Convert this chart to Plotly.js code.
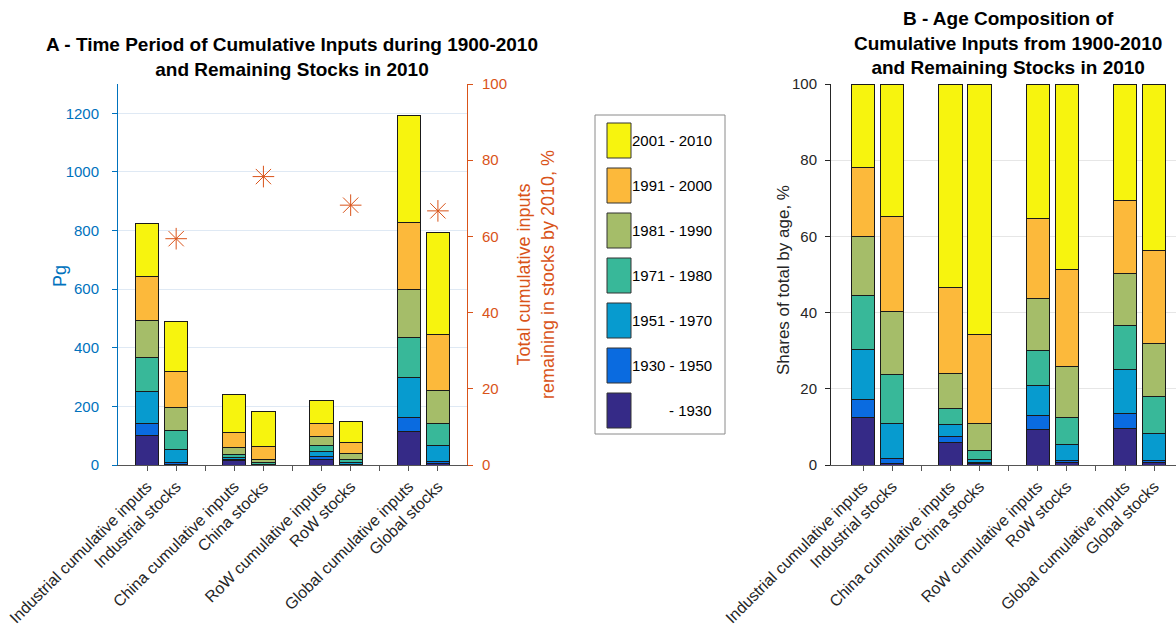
<!DOCTYPE html>
<html>
<head>
<meta charset="utf-8">
<script src="https://cdn.plot.ly/plotly-3.0.1.min.js"></script>
<style>html,body{margin:0;padding:0;background:#fff;}#chart{width:1176px;height:627px;}</style>
</head>
<body>
<div id="chart"></div>
<script>
// ---- DATA ----
const categories = ['Industrial cumulative inputs','Industrial stocks','China cumulative inputs','China stocks',
                    'RoW cumulative inputs','RoW stocks','Global cumulative inputs','Global stocks'];
const periods = ['- 1930','1930 - 1950','1951 - 1970','1971 - 1980','1981 - 1990','1991 - 2000','2001 - 2010'];
// total height of each bar in panel A, Pg
const totalsPg = [825, 490, 242, 181, 220, 150, 1192, 792];
// shares of each period in each bar, % (panel B)
const sharePre1930 = [12.4, 0.5, 5.8, 0.4, 9.2, 0.7, 9.5, 0.6];
const share1930_1950 = [4.7, 1.3, 1.6, 0.3, 3.8, 0.4, 4.1, 0.7];
const share1951_1970 = [13.1, 9.2, 3.1, 0.7, 7.9, 4.2, 11.5, 6.9];
const share1971_1980 = [14.2, 12.8, 4.3, 2.5, 9.2, 7.2, 11.4, 9.7];
const share1981_1990 = [15.5, 16.4, 9.3, 7.1, 13.5, 13.4, 13.7, 14.0];
const share1991_2000 = [18.1, 25.0, 22.4, 23.3, 21.1, 25.4, 19.3, 24.5];
const share2001_2010 = [22.0, 34.8, 53.5, 65.7, 35.3, 48.7, 30.5, 43.6];
// % of cumulative inputs remaining in stocks by 2010 (stars), for the stocks bars
const remainingPct = [59.4, 75.7, 68.2, 66.7];

// ---- STYLE ----
const colors = ['#352A87','#0A6BE0','#079BCF','#38B899','#A5BD69','#FCB93B','#F7F40E'];
const FONT = 'Arial, "Liberation Sans", Helvetica, sans-serif';
const BLUE = '#0072BD', ORANGE = '#D95319', DARK = '#262626';
const W = 1176, H = 627;
const px = v => v / W, py = v => 1 - v / H;

const shares = [sharePre1930, share1930_1950, share1951_1970, share1971_1980, share1981_1990, share1991_2000, share2001_2010];

// positions: pairs of bars with an empty slot between groups
const pos = categories.map((c, i) => Math.floor(i / 2) * 3 + (i % 2) + 1);
const tickvals = [], ticktext = [];
for (let t = 1; t <= 11; t++) {
  tickvals.push(t);
  const k = pos.indexOf(t);
  ticktext.push(k >= 0 ? categories[k] : '');
}

const traces = [];
shares.forEach((s, p) => {
  traces.push({
    type: 'bar', x: pos, y: s.map((v, i) => totalsPg[i] * v / 100),
    xaxis: 'x', yaxis: 'y', width: 0.8, name: periods[p],
    marker: {color: colors[p], line: {color: '#1a1a1a', width: 1}},
    showlegend: false, hoverinfo: 'skip'
  });
});
shares.forEach((s, p) => {
  traces.push({
    type: 'bar', x: pos, y: s,
    xaxis: 'x2', yaxis: 'y3', width: 0.8, name: periods[p],
    marker: {color: colors[p], line: {color: '#1a1a1a', width: 1}},
    showlegend: false, hoverinfo: 'skip'
  });
});
const stockPos = pos.filter((v, i) => i % 2 === 1);
traces.push({
  type: 'scatter', mode: 'markers', x: stockPos, y: remainingPct,
  xaxis: 'x', yaxis: 'y2', showlegend: false,
  marker: {symbol: 'asterisk-open', size: 18, color: ORANGE, line: {color: ORANGE, width: 1}}
});

// custom legend (large swatches, as in the reference)
const shapes = [{type: 'rect', xref: 'paper', yref: 'paper', x0: px(595), x1: px(725), y0: py(434), y1: py(115),
                 line: {color: '#8a8a8a', width: 1}, fillcolor: 'rgba(0,0,0,0)'}];
const annotations = [];
const order = periods.map((p, i) => i).reverse();
order.forEach((p, k) => {
  const top = 123 + k * 45;
  shapes.push({type: 'rect', xref: 'paper', yref: 'paper', x0: px(607), x1: px(631), y0: py(top + 35), y1: py(top),
               line: {color: '#333', width: 1}, fillcolor: colors[p]});
  annotations.push({xref: 'paper', yref: 'paper', x: px(714), y: py(top + 17.5), xanchor: 'right', yanchor: 'middle',
                    text: periods[p], showarrow: false, font: {family: FONT, size: 15, color: '#000'}});
});
annotations.push({xref: 'paper', yref: 'paper', x: px(292), y: py(57), xanchor: 'center', yanchor: 'middle',
  text: '<b>A - Time Period of Cumulative Inputs during 1900-2010<br>and Remaining Stocks in 2010</b>',
  showarrow: false, font: {family: FONT, size: 19, color: '#000'}});
annotations.push({xref: 'paper', yref: 'paper', x: px(1008), y: py(43), xanchor: 'center', yanchor: 'middle',
  text: '<b>B - Age Composition of<br>Cumulative Inputs from 1900-2010<br>and Remaining Stocks in 2010</b>',
  showarrow: false, font: {family: FONT, size: 19, color: '#000'}});
// left axis titles
annotations.push({xref: 'paper', yref: 'paper', x: px(60), y: py(276), xanchor: 'center', yanchor: 'middle',
  text: 'Pg', textangle: -90, showarrow: false, font: {family: FONT, size: 18, color: BLUE}});
annotations.push({xref: 'paper', yref: 'paper', x: px(783), y: py(280), xanchor: 'center', yanchor: 'middle',
  text: 'Shares of total by age, %', textangle: -90, showarrow: false, font: {family: FONT, size: 17, color: DARK}});

const xCommon = {
  tickvals: tickvals, ticktext: ticktext, tickangle: -45, ticks: 'outside', ticklen: 5,
  tickcolor: '#555', showline: true, linecolor: '#555', linewidth: 1, showgrid: false, zeroline: false,
  tickfont: {family: FONT, size: 16, color: DARK}
};

const layout = {
  width: W, height: H, margin: {l: 0, r: 0, t: 0, b: 0}, autosize: false,
  paper_bgcolor: '#fff', plot_bgcolor: 'rgba(0,0,0,0)', barmode: 'stack', bargap: 0,
  showlegend: false, font: {family: FONT},
  xaxis: Object.assign({domain: [px(118), px(467)], range: [0, 12], anchor: 'y'}, xCommon),
  yaxis: {domain: [py(465), py(84)], range: [0, 1300], tickvals: [0,200,400,600,800,1000,1200],
          anchor: 'x', showline: true, linecolor: BLUE, ticks: 'outside', ticklen: 5, tickcolor: BLUE,
          showgrid: true, gridcolor: '#dfe9f4', zeroline: false, ticklabelstandoff: 10,
          tickfont: {family: FONT, size: 15, color: BLUE}},
  yaxis2: {overlaying: 'y', side: 'right', anchor: 'x', range: [0, 100], dtick: 20,
           showline: true, linecolor: ORANGE, ticks: 'outside', ticklen: 5, tickcolor: ORANGE,
           showgrid: false, zeroline: false, ticklabelstandoff: 6,
           tickfont: {family: FONT, size: 15, color: ORANGE},
           title: {text: 'Total cumulative inputs<br>remaining in stocks by 2010, %',
                   font: {family: FONT, size: 18, color: ORANGE}, standoff: 11}},
  xaxis2: Object.assign({domain: [px(831), 1], range: [-0.1, 11.75], anchor: 'y3'}, xCommon),
  yaxis3: {domain: [py(465), py(84)], range: [0, 100], dtick: 20, anchor: 'x2',
           showline: true, linecolor: DARK, ticks: 'outside', ticklen: 5, tickcolor: DARK,
           showgrid: true, gridcolor: '#e6e6e6', zeroline: false, ticklabelstandoff: 5,
           tickfont: {family: FONT, size: 15, color: DARK}},
  shapes: shapes, annotations: annotations
};

Plotly.newPlot('chart', traces, layout, {staticPlot: true, displayModeBar: false});
</script>
</body>
</html>
